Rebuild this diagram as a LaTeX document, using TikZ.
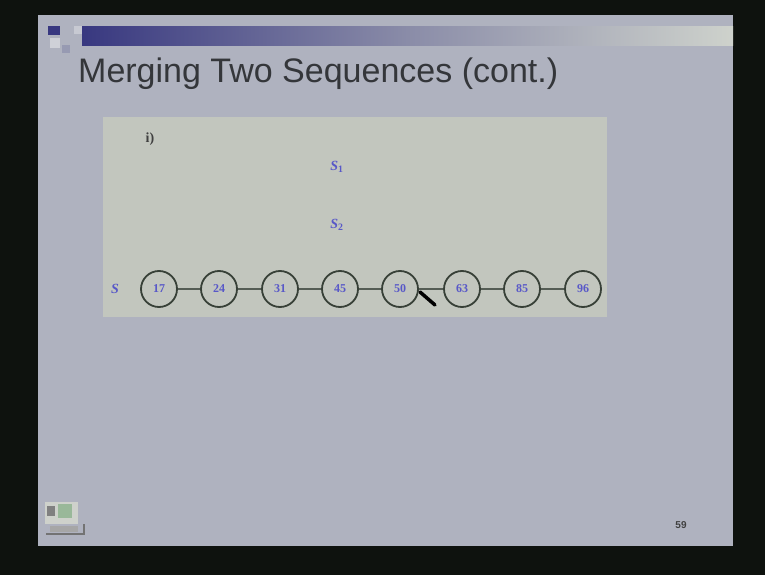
\documentclass[tikz,border=0pt]{standalone}
\usepackage{fontspec}
\setmainfont{Liberation Serif}
\newfontfamily\titlefont{Liberation Sans}
\definecolor{slidebg}{RGB}{175,178,191}
\definecolor{panelbg}{RGB}{194,198,190}
\definecolor{barblue}{RGB}{56,56,128}
\definecolor{barmid}{RGB}{138,140,168}
\definecolor{barlight}{RGB}{206,210,204}
\definecolor{numblue}{RGB}{88,88,200}
\definecolor{ringgrey}{RGB}{55,64,55}
\definecolor{titlegrey}{RGB}{52,54,58}
\definecolor{screenblack}{RGB}{14,18,14}

\begin{document}
\begin{tikzpicture}[x=1pt, y=-1pt,
  elem/.style={circle, draw=ringgrey, line width=1.8pt, minimum size=36pt, inner sep=0pt, text=numblue, font=\fontsize{12}{12}\selectfont\bfseries},
  seqlabel/.style={text=numblue, font=\fontsize{14}{14}\selectfont\bfseries\itshape},
  link/.style={draw=ringgrey!85, line width=1.3pt}]
\useasboundingbox (0,0) rectangle (765,575);
% screen frame and slide
\fill[screenblack] (0,0) rectangle (765,575);
\fill[slidebg] (38,15) rectangle (733,546);
% header bar
\fill[barblue] (48,26) rectangle (60,35);
\fill[slidebg!60!white] (50,38) rectangle (60,48);
\fill[slidebg!80!barblue] (62,45) rectangle (70,53);
\fill[slidebg!70!white] (74,26) rectangle (84,34);
\fill[left color=barblue, right color=barlight, middle color=barmid] (82,27) rectangle (733,46);
% title
\node[anchor=base west, inner sep=0pt, text=titlegrey, font=\titlefont\fontsize{34}{34}\selectfont] (title) at (78,83) {Merging Two Sequences (cont.)};
% figure panel
\fill[panelbg] (103,117) rectangle (607,317);
\node[font=\fontsize{14}{14}\selectfont\bfseries, text=black!75] (step) at (150,139) {i)};
\node[seqlabel] (s1) at (337,167) {S\textsubscript{\upshape 1}};
\node[seqlabel] (s2) at (337,225) {S\textsubscript{\upshape 2}};
\node[seqlabel] (s) at (115,289) {S};
\node[elem] (e17) at (159,289) {17};
\node[elem] (e24) at (219,289) {24};
\node[elem] (e31) at (280,289) {31};
\node[elem] (e45) at (340,289) {45};
\node[elem] (e50) at (400,289) {50};
\node[elem] (e63) at (462,289) {63};
\node[elem] (e85) at (522,289) {85};
\node[elem] (e96) at (583,289) {96};
\draw[link] (e17) -- (e24);
\draw[link] (e24) -- (e31);
\draw[link] (e31) -- (e45);
\draw[link] (e45) -- (e50);
\draw[link] (e50) -- (e63);
\draw[link] (e63) -- (e85);
\draw[link] (e85) -- (e96);
% pointer
\coordinate (ptrtip) at (420,292);
\coordinate (ptrend) at (435,305);
\draw[black, line width=3.5pt, line cap=round] (ptrtip) -- (ptrend);
% footer
\fill[panelbg!80!white] (45,502) rectangle (78,524);
\fill[black!50] (47,506) rectangle (55,516);
\fill[green!30!black!40] (58,504) rectangle (72,518);
\draw[black!55, line width=1.5pt] (46,534) -- (84,534) -- (84,524);
\fill[black!35] (50,526) rectangle (78,532);
\node[text=black!75, font=\titlefont\bfseries\fontsize{10}{10}\selectfont] (pagenum) at (681,525) {59};
\end{tikzpicture}
\end{document}
